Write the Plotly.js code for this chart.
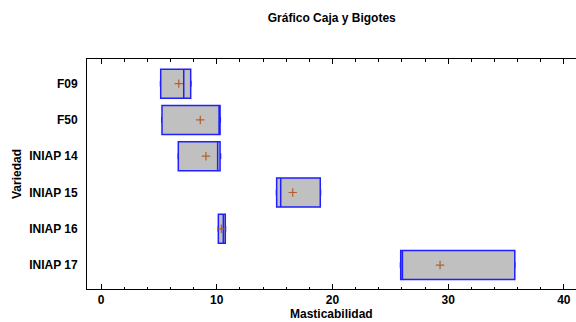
<!DOCTYPE html>
<html>
<head>
<meta charset="utf-8">
<script src="https://cdn.plot.ly/plotly-3.0.1.min.js"></script>
<style>html,body{margin:0;padding:0;background:#fff;}#chart{width:576px;height:322px;}</style>
</head>
<body>
<div id="chart"></div>
<script>
const categories = ["F09", "F50", "INIAP 14", "INIAP 15", "INIAP 16", "INIAP 17"];
const q1Values = [5.16, 5.27, 6.68, 15.18, 10.14, 25.90];
const medianValues = [7.15, 10.25, 10.08, 15.53, 10.57, 26.05];
const q3Values = [7.75, 10.29, 10.29, 18.95, 10.74, 35.76];
const minValues = [5.14, 5.25, 6.66, 15.16, 10.12, 25.88];
const maxValues = [7.78, 10.31, 10.33, 18.97, 10.76, 35.78];
const meanValues = [6.72, 8.58, 9.07, 16.57, 10.40, 29.30];
const xTickValues = [0, 10, 20, 30, 40];

const boxTrace = {
  type: 'box',
  orientation: 'h',
  y: categories,
  q1: q1Values,
  median: medianValues,
  q3: q3Values,
  lowerfence: minValues,
  upperfence: maxValues,
  width: 0.8,
  whiskerwidth: 0.2,
  fillcolor: '#c0c0c0',
  line: {color: '#1f1fff', width: 1.5},
  boxpoints: false,
  hoverinfo: 'skip',
  showlegend: false
};

const meanTrace = {
  type: 'scatter',
  mode: 'markers',
  x: meanValues,
  y: categories,
  marker: {symbol: 'cross-thin', size: 6, line: {color: '#b0602a', width: 1.2}},
  showlegend: false,
  hoverinfo: 'skip'
};

const fam = 'Liberation Sans, Arial, sans-serif';
const boldFont = {family: fam, size: 12, color: '#000', weight: 'bold'};

const layout = {
  width: 576,
  height: 322,
  margin: {l: 87, r: 0, t: 59, b: 33},
  paper_bgcolor: '#fff',
  plot_bgcolor: '#fff',
  font: {family: fam, size: 12, color: '#000'},
  title: {text: 'Gráfico Caja y Bigotes', x: 0.576, xanchor: 'center', y: 0.945, yanchor: 'middle', font: boldFont},
  xaxis: {
    range: [-1.21, 41.05],
    tickvals: xTickValues,
    ticks: 'inside',
    ticklen: 5,
    tickcolor: '#000',
    minor: {dtick: 2, tick0: 0, ticks: 'inside', ticklen: 2.5, tickcolor: '#000'},
    showline: true,
    linecolor: '#000',
    linewidth: 1,
    mirror: 'ticks',
    showgrid: false,
    zeroline: false,
    tickfont: boldFont
  },
  yaxis: {
    type: 'category',
    categoryorder: 'array',
    categoryarray: categories,
    range: [5.66, -0.68],
    showline: true,
    linecolor: '#000',
    linewidth: 1,
    mirror: false,
    ticks: '',
    showgrid: false,
    zeroline: false,
    tickfont: boldFont,
    ticklabelstandoff: 6,
    title: {text: 'Variedad', standoff: 4, font: boldFont}
  },
  annotations: [{
    text: 'Masticabilidad',
    xref: 'paper', yref: 'paper',
    x: 0.5, y: -0.108,
    xanchor: 'center', yanchor: 'middle',
    showarrow: false,
    font: boldFont
  }]
};

Plotly.newPlot('chart', [boxTrace, meanTrace], layout, {displayModeBar: false, staticPlot: true});
</script>
</body>
</html>
